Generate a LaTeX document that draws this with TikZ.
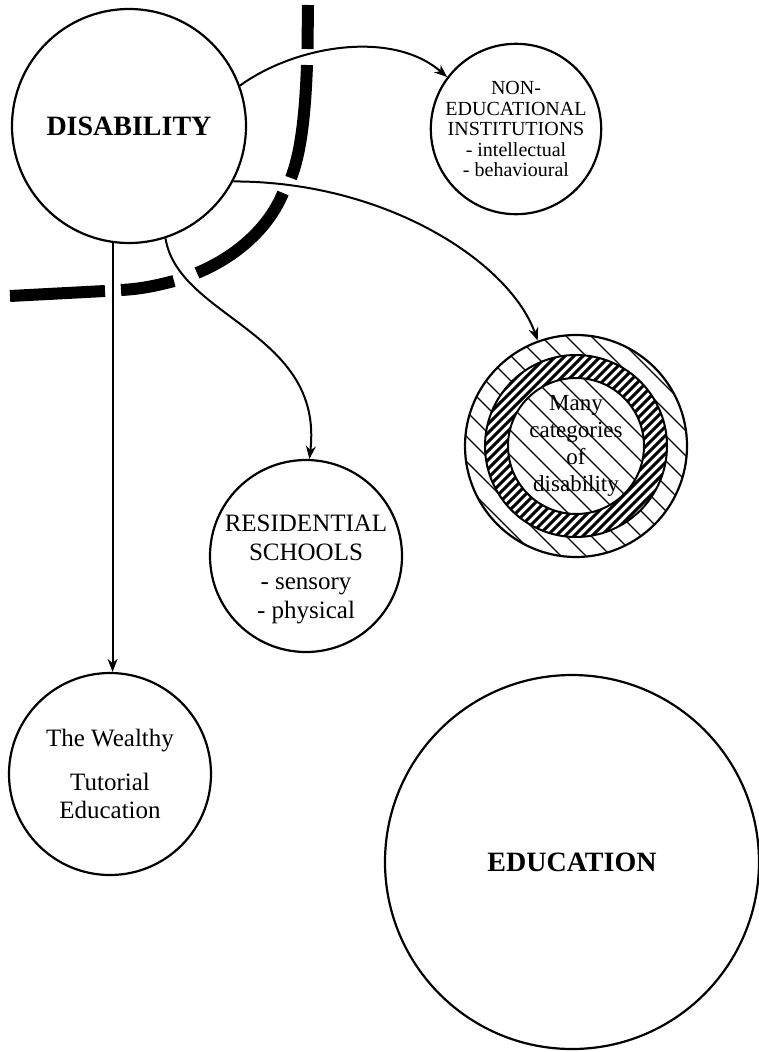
\documentclass[tikz,border=0pt]{standalone}
\usepackage{fontspec}
\setmainfont{Liberation Serif}
\usetikzlibrary{arrows.meta}

\begin{document}
\begin{tikzpicture}[x=1pt,y=-1pt,
    bubble/.style={circle, draw, line width=2.2pt, inner sep=0pt, align=center},
    link/.style={line width=2pt, -{Stealth[length=13pt,width=10pt]}},
    wall/.style={line width=12pt}]
    \useasboundingbox (0,0) rectangle (759,1052);

    % circles
    \node[bubble, minimum size=234pt, font=\fontsize{28}{30}\selectfont\bfseries] (dis) at (129,126) {DISABILITY};
    \node[bubble, minimum size=146pt, font=\fontsize{20}{20.5}\selectfont] (nonedu) at (516,129)
        {NON-\\EDUCATIONAL\\INSTITUTIONS\\- intellectual\\- behavioural};
    \node[bubble, minimum size=192pt] (res) at (306,556) {};
    \node[align=center, font=\fontsize{25}{29}\selectfont] (restext) at (306,569)
        {RESIDENTIAL\\SCHOOLS\\- sensory\\- physical};
    \node[bubble, minimum size=202pt, font=\fontsize{25}{28}\selectfont] (wealthy) at (110,774)
        {The Wealthy\\[16pt]Tutorial\\Education};
    \node[bubble, minimum size=374pt, font=\fontsize{28}{30}\selectfont\bfseries] (edu) at (572,862) {EDUCATION};

    % hatched rings
    \coordinate (mc) at (576,446);
    \begin{scope}[shift={(mc)}]
        \clip (0,0) circle (111);
        \foreach \k in {-275,-250,...,275}
            \draw[line width=1.2pt] (\k-150,-150) -- (\k+150,150);
    \end{scope}
    \begin{scope}[shift={(mc)}, even odd rule]
        \clip (0,0) circle (91) (0,0) circle (68);
        \fill[white] (-100,-100) rectangle (100,100);
        \foreach \k in {-200,-191,...,200}
            \draw[line width=3pt] (\k-100,100) -- (\k+100,-100);
    \end{scope}
    \draw[line width=2pt] (mc) circle (91) (mc) circle (68);
    \node[bubble, minimum size=222pt, font=\fontsize{23}{27}\selectfont] (many) at (mc)
        {Many\\categories\\of\\disability};

    % thick boundary, broken where the arrows pass
    \draw[wall] (308,5) -- (307.5,49)
        (307,65) .. controls (305,120) and (300,155) .. (291,178)
        (283,193) .. controls (270,225) and (240,255) .. (197,273)
        (174,281) .. controls (155,286) and (140,289) .. (121,290)
        (105,291) -- (10,296);

    % arrows
    \draw[link] (dis.20) .. controls +(55,-40) and +(-55,-48) .. (nonedu.143);
    \draw[link] (dis.-28) .. controls +(155,0) and +(-27,-77) .. (many.110);
    \draw[link] (dis.-72) .. controls +(13,80) and +(15,-127) .. (res.88);
    \draw[link] (dis.262) -- (dis.262 |- wealthy.north);
\end{tikzpicture}
\end{document}
